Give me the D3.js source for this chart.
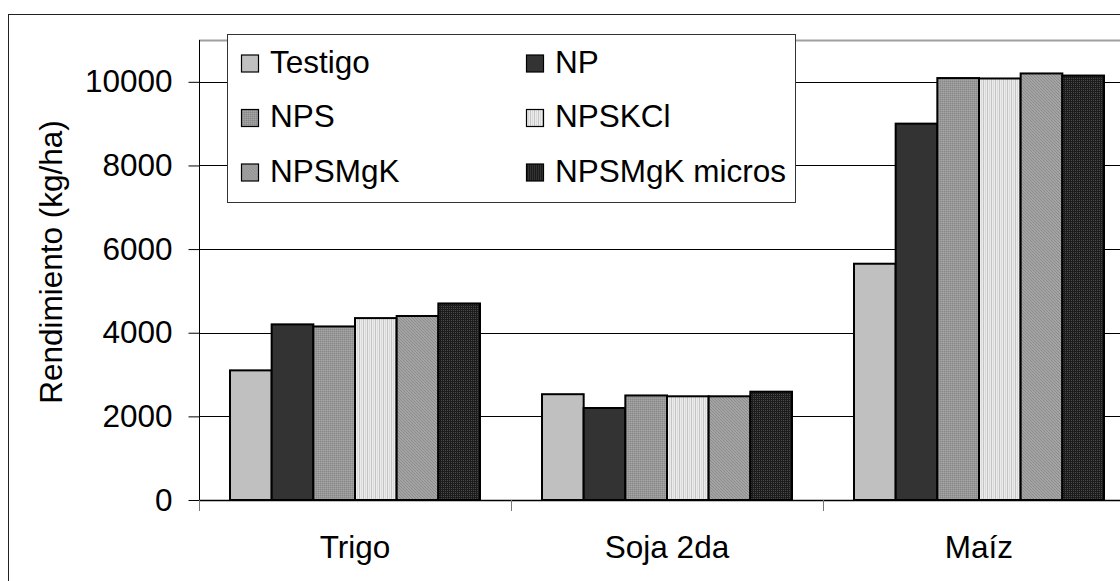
<!DOCTYPE html>
<html><head><meta charset="utf-8">
<script src="https://cdn.jsdelivr.net/npm/d3@7"></script>
<style>html,body{margin:0;padding:0;background:#fff;}svg{display:block;font-family:"Liberation Sans",Arial,sans-serif;}</style>
</head><body>
<svg id="c" width="1120" height="581"></svg>
<script>
const categories = ["Trigo", "Soja 2da", "Maíz"];
const seriesNames = ["Testigo", "NP", "NPS", "NPSKCl", "NPSMgK", "NPSMgK micros"];
const testigo = [3100, 2530, 5650];
const np = [4200, 2200, 9000];
const nps = [4150, 2500, 10090];
const npskcl = [4350, 2480, 10080];
const npsmgk = [4400, 2480, 10200];
const npsmgkMicros = [4700, 2590, 10150];
const yTicks = [0, 2000, 4000, 6000, 8000, 10000];
const yLabel = "Rendimiento (kg/ha)";

const seriesValues = [testigo, np, nps, npskcl, npsmgk, npsmgkMicros];
const FS = 31.5;

const svg = d3.select("#c");
const defs = svg.append("defs");

function pat(id, w, h, bg, pixels) {
  const p = defs.append("pattern").attr("id", id).attr("patternUnits", "userSpaceOnUse")
    .attr("width", w).attr("height", h);
  p.append("rect").attr("width", w).attr("height", h).attr("fill", bg);
  pixels.forEach(([x, y, c, pw, ph]) => p.append("rect").attr("x", x).attr("y", y)
    .attr("width", pw || 1).attr("height", ph || 1).attr("fill", c));
}
pat("pNPS", 2, 2, "#969696", [[0, 0, "#a6a6a6"], [1, 1, "#8a8a8a"]]);
pat("pKCl", 4, 4, "#ececec", [[0, 0, "#c4c4c4", 1, 4], [2, 0, "#dadada", 1, 4]]);
pat("pMgK", 3, 3, "#a4a4a4", [[0, 0, "#8c8c8c"], [1, 1, "#8c8c8c"], [2, 2, "#8c8c8c"]]);
pat("pMic", 2, 2, "#1c1c1c", [[0, 0, "#4a4a4a"]]);

const fills = ["#c0c0c0", "#333333", "url(#pNPS)", "url(#pKCl)", "url(#pMgK)", "url(#pMic)"];

svg.append("rect").attr("x", 8.5).attr("y", 14.5).attr("width", 1200).attr("height", 1000)
  .attr("fill", "none").attr("stroke", "#222").attr("stroke-width", 1);

const plotL = 199, plotT = 40, plotB = 500, catW = 312;
const x = d3.scaleBand().domain(categories).range([plotL, plotL + catW * categories.length]).padding(0);
const x1 = d3.scaleBand().domain(seriesNames).range([31, catW - 31]).padding(0);
const y = d3.scaleLinear().domain([0, 11000]).range([plotB, plotT]);

svg.append("line").attr("x1", plotL).attr("x2", 1120).attr("y1", plotT + 0.5).attr("y2", plotT + 0.5)
  .attr("stroke", "#a0a0a0").attr("stroke-width", 2);

svg.append("g").selectAll("line").data(yTicks.filter(d => d > 0)).join("line")
  .attr("x1", plotL).attr("x2", 1120)
  .attr("y1", d => Math.round(y(d)) + 0.5).attr("y2", d => Math.round(y(d)) + 0.5)
  .attr("stroke", "#000").attr("stroke-width", 1);

const groups = svg.append("g").selectAll("g").data(categories).join("g")
  .attr("transform", c => `translate(${x(c)},0)`);
groups.selectAll("rect").data((c, ci) => seriesNames.map((s, si) => ({ s, si, v: seriesValues[si][ci] })))
  .join("rect")
  .attr("x", d => x1(d.s))
  .attr("width", x1.bandwidth())
  .attr("y", d => y(d.v))
  .attr("height", d => y(0) - y(d.v))
  .attr("fill", d => fills[d.si])
  .attr("stroke", "#000").attr("stroke-width", 2);

const yAxis = svg.append("g").attr("transform", `translate(${plotL + 0.5},0)`)
  .call(d3.axisLeft(y).tickValues(yTicks).tickSize(11).tickPadding(16).tickFormat(d3.format("d")));
yAxis.select(".domain").attr("d", `M0,${plotT}V${plotB}`).attr("stroke", "#000");
yAxis.selectAll(".tick line").attr("stroke", "#000");
yAxis.selectAll(".tick text").attr("font-size", FS).attr("fill", "#000")
  .attr("font-family", "'Liberation Sans',Arial,sans-serif");

svg.append("line").attr("x1", plotL).attr("x2", 1120).attr("y1", plotB + 0.5).attr("y2", plotB + 0.5)
  .attr("stroke", "#000").attr("stroke-width", 1.5);
svg.append("g").selectAll("line").data(categories).join("line")
  .attr("x1", c => Math.round(x(c)) + 0.5).attr("x2", c => Math.round(x(c)) + 0.5)
  .attr("y1", plotB).attr("y2", plotB + 11)
  .attr("stroke", "#777").attr("stroke-width", 1);
svg.append("g").selectAll("text").data(categories).join("text")
  .attr("x", c => x(c) + x.bandwidth() / 2).attr("y", 558)
  .attr("text-anchor", "middle").attr("font-size", FS).attr("fill", "#000").text(c => c);

svg.append("text").attr("transform", "translate(62,262) rotate(-90)")
  .attr("text-anchor", "middle").attr("font-size", FS).attr("fill", "#000").text(yLabel);

const lg = svg.append("g");
lg.append("rect").attr("x", 227.5).attr("y", 34.5).attr("width", 568).attr("height", 168)
  .attr("fill", "#fff").attr("stroke", "#333").attr("stroke-width", 1);
const items = lg.selectAll("g").data(seriesNames).join("g")
  .attr("transform", (s, i) => `translate(${i % 2 === 0 ? 241 : 526},${72.5 + Math.floor(i / 2) * 54.5})`);
items.append("rect").attr("x", 0.5).attr("y", -17.5).attr("width", 17).attr("height", 17)
  .attr("fill", (s, i) => fills[i]).attr("stroke", "#000").attr("stroke-width", 1.2);
items.append("text").attr("x", 29).attr("y", 0).attr("font-size", FS).attr("fill", "#000").text(s => s);
</script>
</body></html>
